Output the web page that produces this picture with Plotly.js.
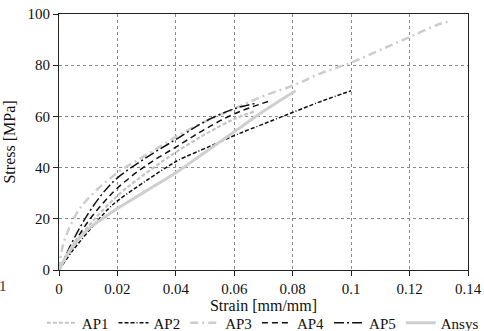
<!DOCTYPE html>
<html>
<head>
<meta charset="utf-8">
<script src="https://cdn.plot.ly/plotly-3.0.1.min.js"></script>
<style>html,body{margin:0;padding:0;background:#fff;}#chart{width:484px;height:331px;}</style>
</head>
<body>
<div id="chart"></div>
<script>
// Data
const ap1Strain = [0, 0.005, 0.01, 0.02, 0.03, 0.04, 0.05, 0.06, 0.067];
const ap1Stress = [0, 9, 17, 29, 38, 46, 53, 59, 62];

const ap2Strain = [0, 0.005, 0.01, 0.017, 0.02, 0.03, 0.038, 0.041, 0.051, 0.055, 0.061, 0.071, 0.081, 0.09, 0.1];
const ap2Stress = [0, 8, 15, 24, 27, 35, 41, 43, 48, 50, 53, 57.5, 62, 66, 70];

const ap3Strain = [0, 0.001, 0.003, 0.006, 0.01, 0.02, 0.03, 0.04, 0.05, 0.06, 0.07, 0.08, 0.09, 0.1, 0.11, 0.12, 0.13, 0.133];
const ap3Stress = [0, 8, 15, 22, 28, 38, 45, 52, 58, 63, 68, 72, 77, 81, 86, 91, 96, 97];

const ap4Strain = [0, 0.005, 0.01, 0.015, 0.02, 0.03, 0.04, 0.05, 0.06, 0.072];
const ap4Stress = [0, 10, 19, 26, 32, 41, 48, 55, 61, 66];

const ap5Strain = [0, 0.005, 0.01, 0.015, 0.02, 0.03, 0.04, 0.05, 0.06, 0.067];
const ap5Stress = [0, 12, 22, 30, 36, 44, 51, 58, 63, 65];

const ansysStrain = [0, 0.005, 0.01, 0.02, 0.03, 0.04, 0.05, 0.06, 0.07, 0.081];
const ansysStress = [0, 10, 16, 24, 31, 38, 46, 54, 62, 70];

const xTicks = [0, 0.02, 0.04, 0.06, 0.08, 0.1, 0.12, 0.14];
const xTickLabels = ["0", "0.02", "0.04", "0.06", "0.08", "0.1", "0.12", "0.14"];
const yTicks = [0, 20, 40, 60, 80, 100];

const serif = "Liberation Serif, Times New Roman, serif";

const traces = [
  {name: "AP1", x: ap1Strain, y: ap1Stress, line: {color: "#c4c4c4", width: 2.2, dash: "4px,2px"}},
  {name: "AP2", x: ap2Strain, y: ap2Stress, line: {color: "#111", width: 1.5, dash: "4px,2px,4px,2px,4px,2px,1px,2px"}},
  {name: "AP3", x: ap3Strain, y: ap3Stress, line: {color: "#cdcdcd", width: 2.5, dash: "8px,4px,2px,4px"}},
  {name: "AP4", x: ap4Strain, y: ap4Stress, line: {color: "#111", width: 1.5, dash: "6px,4px"}},
  {name: "AP5", x: ap5Strain, y: ap5Stress, line: {color: "#111", width: 1.5, dash: "10px,3px,2px,3px"}},
  {name: "Ansys", x: ansysStrain, y: ansysStress, line: {color: "#cfcfcf", width: 3}}
].map(t => Object.assign({type: "scatter", mode: "lines"}, t, {line: Object.assign({shape: "spline"}, t.line)}));

const layout = {
  width: 484, height: 331,
  margin: {l: 59, r: 16, t: 14, b: 61, autoexpand: false},
  paper_bgcolor: "#fff", plot_bgcolor: "#fff",
  font: {family: serif, size: 15, color: "#111"},
  showlegend: true,
  legend: {orientation: "h", x: -0.042, xanchor: "left", y: -0.207, yanchor: "middle",
           font: {family: serif, size: 15, color: "#111"}, itemwidth: 30, tracegroupgap: 0},
  xaxis: {
    range: [0, 0.1400001], tickvals: xTicks, ticktext: xTickLabels,
    showgrid: true, gridcolor: "#8a8a8a", griddash: "dot", gridwidth: 1,
    showline: true, linecolor: "#222", linewidth: 1, mirror: true,
    ticks: "outside", ticklen: 5, tickcolor: "#222",
    zeroline: false, tickfont: {family: serif, size: 15},
    title: {text: "Strain [mm/mm]", font: {family: serif, size: 16}, standoff: 0}
  },
  yaxis: {
    range: [0, 100.0001], tickvals: yTicks,
    showgrid: true, gridcolor: "#8a8a8a", griddash: "dot", gridwidth: 1,
    showline: true, linecolor: "#222", linewidth: 1, mirror: true,
    ticks: "outside", ticklen: 5, tickcolor: "#222",
    zeroline: false, tickfont: {family: serif, size: 15},
    title: {text: "Stress [MPa]", font: {family: serif, size: 16}, standoff: 7}
  },
  annotations: [
    {text: "1", xref: "paper", yref: "paper", x: -0.137, y: -0.0625, showarrow: false,
     xanchor: "center", yanchor: "middle", font: {family: serif, size: 15, color: "#333"}}
  ]
};

Plotly.newPlot("chart", traces, layout, {displayModeBar: false, staticPlot: true});
</script>
</body>
</html>
